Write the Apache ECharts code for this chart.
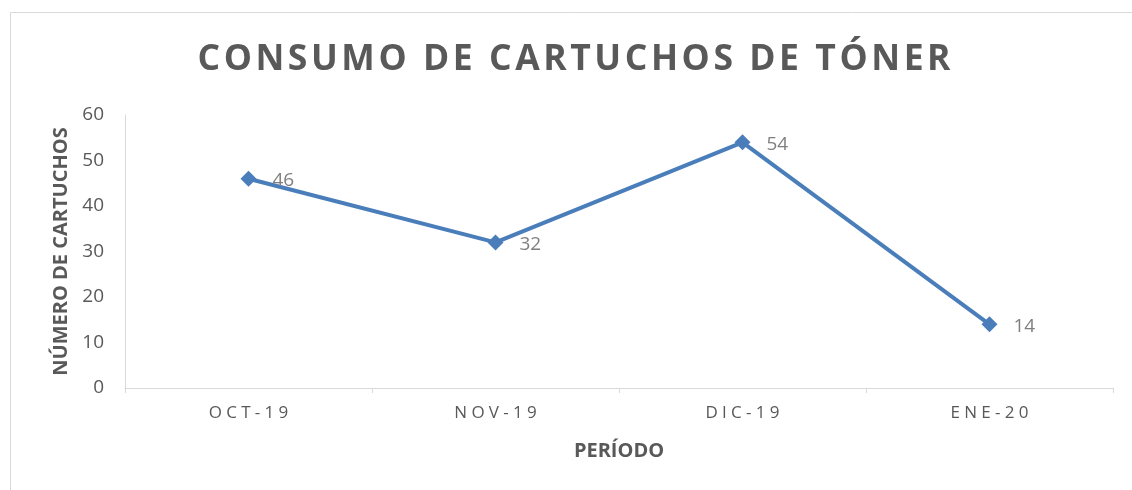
<!DOCTYPE html>
<html>
<head>
<meta charset="utf-8">
<script src="https://cdn.jsdelivr.net/npm/echarts@6/dist/echarts.min.js"></script>
<style>html,body{margin:0;padding:0;background:#fff;}#c{width:1132px;height:490px;}</style>
</head>
<body>
<div id="c"></div>
<script>
const titleText = 'CONSUMO DE CARTUCHOS DE TÓNER';
const categories = ['OCT-19', 'NOV-19', 'DIC-19', 'ENE-20'];
const values = [46, 32, 54, 14];
const yTicks = [0, 10, 20, 30, 40, 50, 60];
const yName = 'NÚMERO DE CARTUCHOS';
const xName = 'PERÍODO';

const spaced = (s, sp) => s.split('').join(sp);
const chart = echarts.init(document.getElementById('c'));
chart.setOption({
  backgroundColor: '#fff',
  animation: false,
  graphic: [{
    type: 'rect', left: 8, top: 10,
    shape: { width: 1140, height: 500 },
    style: { fill: 'none', stroke: '#d9d9d9', lineWidth: 1 }
  }],
  title: {
    text: spaced(titleText, '\u200A'),
    left: 569, top: 37, textAlign: 'center',
    textStyle: { fontFamily: 'Open Sans', fontWeight: 'bold', fontSize: 35.5, color: '#595959' }
  },
  grid: { left: 125, right: 19, top: 115, bottom: 102 },
  xAxis: {
    type: 'category', data: categories, boundaryGap: true,
    name: xName, nameLocation: 'middle', nameGap: 53,
    nameTextStyle: { fontFamily: 'Open Sans', fontWeight: 'bold', fontSize: 20, color: '#595959' },
    axisLine: { lineStyle: { color: '#d9d9d9', width: 1 } },
    axisTick: { show: true, length: 5, lineStyle: { color: '#d9d9d9' } },
    axisLabel: { margin: 17, fontFamily: 'Open Sans', fontSize: 17, color: '#595959',
      formatter: v => spaced(v, '\u2005') },
    splitLine: { show: false }
  },
  yAxis: {
    type: 'value', min: yTicks[0], max: yTicks[yTicks.length - 1], interval: 10,
    name: yName, nameLocation: 'middle', nameGap: 52, nameRotate: 90,
    nameTextStyle: { fontFamily: 'Open Sans', fontWeight: 'bold', fontSize: 20, color: '#595959' },
    axisLine: { show: true, lineStyle: { color: '#d9d9d9', width: 1 } },
    axisTick: { show: false },
    axisLabel: { margin: 21, fontFamily: 'Open Sans', fontSize: 19, color: '#595959' },
    splitLine: { show: false }
  },
  series: [{
    type: 'line', data: values,
    symbol: 'diamond', symbolSize: 16,
    lineStyle: { color: '#4a7ebb', width: 4 },
    itemStyle: { color: '#4a7ebb' },
    label: { show: true, position: 'right', distance: 16, offset: [0, 2], fontFamily: 'Open Sans', fontSize: 19, color: '#7f7f7f' }
  }]
});
</script>
</body>
</html>
